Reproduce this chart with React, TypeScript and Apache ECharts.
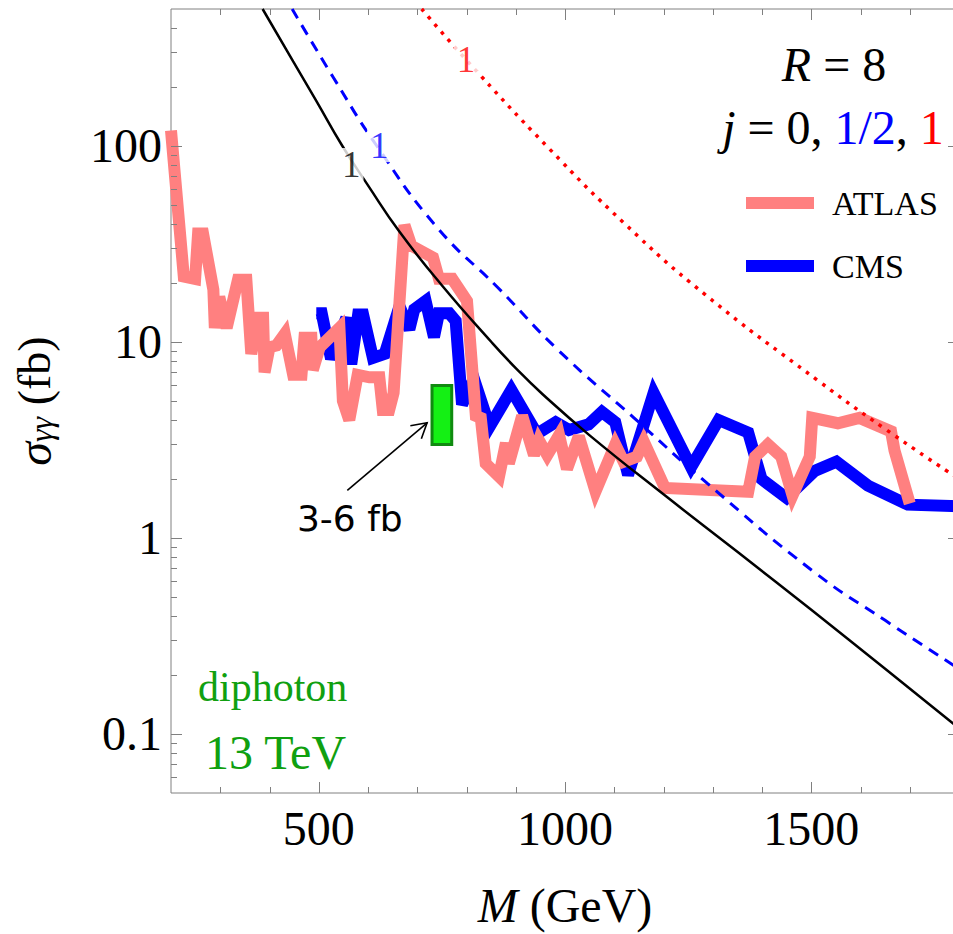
import React, { useEffect, useRef } from 'react';
import * as echarts from 'echarts';

// ---------------- data ----------------
const atlasMass = [200, 226, 249, 255, 265, 286, 289, 298, 313, 336, 353, 363, 377, 387, 390, 400, 414, 431, 448, 465, 471, 485, 488, 502, 542, 549, 562, 579, 603, 623, 630, 643, 652, 674, 688, 732, 744, 771, 801, 819, 829, 839, 866, 880, 886, 913, 937, 947, 964, 988, 1004, 1028, 1062, 1102, 1119, 1146, 1160, 1203, 1372, 1386, 1412, 1439, 1462, 1497, 1502, 1554, 1598, 1662, 1669, 1700];
const atlasSigma = [120, 21.6, 21, 35.8, 35.8, 18.5, 11.8, 17, 11.8, 20.8, 20.8, 8.7, 13.3, 13.3, 7.0, 9.4, 9.6, 11.0, 6.8, 6.8, 10.5, 10.5, 7.2, 9.4, 11.8, 5.0, 4.0, 6.8, 6.6, 6.6, 4.5, 4.5, 5.5, 39.5, 31, 27, 21, 21, 16.2, 4.2, 4.1, 2.4, 2.06, 3.05, 2.4, 4.2, 2.65, 3.15, 2.65, 3.35, 2.25, 3.3, 1.73, 3.0, 2.45, 2.6, 3.1, 1.8, 1.72, 2.6, 3.0, 2.6, 1.65, 2.6, 4.1, 3.85, 4.1, 3.5, 2.8, 1.5];

const cmsMass = [495, 506, 525, 556, 566, 580, 590, 610, 634, 664, 684, 694, 717, 734, 744, 765, 778, 791, 815, 847, 891, 943, 981, 1008, 1048, 1075, 1102, 1128, 1180, 1256, 1312, 1372, 1399, 1450, 1507, 1551, 1615, 1696, 1800];
const cmsSigma = [14, 14, 8.2, 13.3, 7.7, 13.8, 13.8, 8.3, 8.7, 15.2, 11.6, 14.7, 16.2, 10.6, 14, 14, 12.8, 4.8, 6.5, 3.7, 5.7, 3.4, 3.9, 3.56, 3.8, 4.4, 3.9, 2.1, 5.5, 2.3, 4.0, 3.45, 2.0, 1.6, 2.2, 2.45, 1.85, 1.48, 1.45];

// theory curves, R = 8, j = 0, 1/2, 1
const spin0Mass = [386, 448, 495, 548, 600, 664, 749, 851, 900, 954, 1050, 1200, 1350, 1500, 1650, 1800];
const spin0Sigma = [500, 270, 170, 100, 63, 36.5, 19.6, 9.97, 7.36, 5.43, 3.34, 1.67, 0.85, 0.43, 0.215, 0.107];
const spinHalfMass = [446, 529, 618, 740, 864, 988, 1140, 1289, 1507, 1650, 1800];
const spinHalfSigma = [500, 225, 100, 38.5, 18.9, 9.0, 4.1, 1.9, 0.667, 0.38, 0.215];
const spin1Mass = [709, 799, 966, 1120, 1284, 1512, 1650, 1800];
const spin1Sigma = [500, 276, 98, 40.4, 17.5, 6.4, 3.6, 2.0];

// contour labels on the curves
const curveLabelMass = [566, 623, 799];
const curveLabelSigma = [80, 101, 276];
const curveLabelText = ['1', '1', '1'];

// signal box 3-6 fb around 750 GeV and its arrow
const signalMass = [730, 770];
const signalSigma = [3, 6];
const arrowMass = [558, 720];
const arrowSigma = [1.75, 3.87];
const signalLabelMass = 563;
const signalLabelSigma = 1.26;
const signalLabel = '3-6 fb';

// axis ticks
const xTickValues = [500, 1000, 1500];
const xTickLabels = ['500', '1000', '1500'];
const xMinorTicks = [300, 400, 600, 700, 800, 900, 1100, 1200, 1300, 1400, 1600, 1700];
const yTickValues = [0.1, 1, 10, 100];
const yTickLabels = ['0.1', '1', '10', '100'];
const yDecades = [0.01, 0.1, 1, 10, 100];
const yMultipliers = [2, 3, 4, 5, 6, 7, 8, 9];

// ---------------- styles ----------------
const serif = 'Liberation Serif, Times New Roman, serif';
const sans = 'DejaVu Sans, sans-serif';
const axisGray = '#808080';
const curveLabelColors = ['#000000', '#0000ff', '#ff0000'];

const zip = (a: number[], b: number[]) => a.map((v, i) => [v, b[i]]);

export default function App() {
  const ref = useRef<HTMLDivElement>(null);

  useEffect(() => {
    if (!ref.current) return;
    const chart = echarts.init(ref.current, null, { renderer: 'svg' });

    const yMinorTicks: number[] = [];
    yDecades.forEach((d) =>
      yMultipliers.forEach((m) => {
        const v = +(d * m).toPrecision(3);
        if (v > 0.05 && v < 500) yMinorTicks.push(v);
      })
    );
    const tickData: number[][] = [
      ...xTickValues.map((v) => [v, 1, 0, 1]),
      ...xMinorTicks.map((v) => [v, 1, 0, 0]),
      ...yTickValues.map((v) => [1000, v, 1, 1]),
      ...yMinorTicks.map((v) => [1000, v, 1, 0]),
    ];

    const option: any = {
      animation: false,
      backgroundColor: '#ffffff',
      textStyle: { fontFamily: serif },
      grid: {
        left: 171,
        top: 9,
        right: 1,
        bottom: 135,
        show: true,
        borderColor: axisGray,
        borderWidth: 1,
        backgroundColor: 'transparent',
      },
      xAxis: {
        type: 'value',
        min: 200,
        max: 1800,
        interval: 100,
        axisLine: { show: false },
        axisTick: { show: false },
        splitLine: { show: false },
        axisLabel: {
          color: '#000',
          fontFamily: serif,
          fontSize: 48,
          margin: 11,
          formatter: (v: number) => {
            const i = xTickValues.indexOf(v);
            return i >= 0 ? xTickLabels[i] : '';
          },
        },
        name: '{m|M} (GeV)',
        nameLocation: 'middle',
        nameGap: 88,
        nameTextStyle: {
          color: '#000',
          fontFamily: serif,
          fontSize: 48,
          rich: { m: { fontStyle: 'italic', fontFamily: serif, fontSize: 48, color: '#000' } },
        },
      },
      yAxis: {
        type: 'log',
        logBase: 10,
        min: 0.05,
        max: 500,
        axisLine: { show: false },
        axisTick: { show: false },
        splitLine: { show: false },
        axisLabel: {
          color: '#000',
          fontFamily: serif,
          fontSize: 48,
          margin: 9,
          formatter: (v: number) => {
            const i = yTickValues.findIndex((t) => Math.abs(Math.log10(t) - Math.log10(v)) < 1e-6);
            return i >= 0 ? yTickLabels[i] : '';
          },
        },
        name: '{s|σ}{g|γγ} (fb)',
        nameLocation: 'middle',
        nameGap: 114,
        nameTextStyle: {
          color: '#000',
          fontFamily: serif,
          fontSize: 46,
          lineHeight: 46,
          rich: {
            s: { fontStyle: 'italic', fontFamily: serif, fontSize: 48, lineHeight: 46, color: '#000' },
            g: { fontStyle: 'italic', fontFamily: serif, fontSize: 32, lineHeight: 16, verticalAlign: 'bottom', color: '#000' },
          },
        },
      },
      legend: {
        data: ['ATLAS', 'CMS'],
        orient: 'vertical',
        left: 741,
        top: 178,
        itemWidth: 68,
        itemHeight: 12,
        itemGap: 23,
        icon: 'rect',
        selectedMode: false,
        textStyle: {
          color: '#000',
          fontFamily: serif,
          fontSize: 34,
          lineHeight: 40,
          padding: [0, 0, 0, 13],
        },
      },
      graphic: [
        {
          type: 'text',
          x: 834,
          y: 64,
          style: {
            text: '{i|R} = 8',
            fontFamily: serif,
            fontSize: 48,
            fill: '#000',
            align: 'center',
            verticalAlign: 'middle',
            rich: { i: { fontStyle: 'italic', fontFamily: serif, fontSize: 48, fill: '#000' } },
          },
        },
        {
          type: 'text',
          x: 833,
          y: 127,
          style: {
            text: '{i|j} = 0, {b|1/2}, {r|1}',
            fontFamily: serif,
            fontSize: 48,
            fill: '#000',
            align: 'center',
            verticalAlign: 'middle',
            rich: {
              i: { fontStyle: 'italic', fontFamily: serif, fontSize: 48, fill: '#000' },
              b: { fontFamily: serif, fontSize: 48, fill: '#0000ff' },
              r: { fontFamily: serif, fontSize: 48, fill: '#ff0000' },
            },
          },
        },
        {
          type: 'text',
          x: 198,
          y: 687,
          style: { text: 'diphoton', fontFamily: serif, fontSize: 42, fill: '#10a010', align: 'left', verticalAlign: 'middle' },
        },
        {
          type: 'text',
          x: 205,
          y: 752,
          style: { text: '13 TeV', fontFamily: serif, fontSize: 48, fill: '#10a010', align: 'left', verticalAlign: 'middle' },
        },
      ],
      series: [
        {
          name: 'CMS',
          type: 'line',
          data: zip(cmsMass, cmsSigma),
          showSymbol: false,
          symbol: 'none',
          z: 2,
          itemStyle: { color: '#0000ff' },
          lineStyle: { color: '#0000ff', width: 12, join: 'miter', miterLimit: 3, cap: 'butt' },
        },
        {
          name: 'ATLAS',
          type: 'line',
          data: zip(atlasMass, atlasSigma),
          showSymbol: false,
          symbol: 'none',
          z: 3,
          itemStyle: { color: '#ff8080' },
          lineStyle: { color: '#ff8080', width: 12, join: 'miter', miterLimit: 3, cap: 'butt' },
        },
        {
          name: 'j=0',
          type: 'line',
          data: zip(spin0Mass, spin0Sigma),
          smooth: 0.5,
          showSymbol: false,
          symbol: 'none',
          z: 4,
          lineStyle: { color: '#000000', width: 2.5 },
        },
        {
          name: 'j=1/2',
          type: 'line',
          data: zip(spinHalfMass, spinHalfSigma),
          smooth: 0.5,
          showSymbol: false,
          symbol: 'none',
          z: 4,
          lineStyle: { color: '#0000ff', width: 3, type: [11, 8] },
        },
        {
          name: 'j=1',
          type: 'line',
          data: zip(spin1Mass, spin1Sigma),
          smooth: 0.5,
          showSymbol: false,
          symbol: 'none',
          z: 4,
          lineStyle: { color: '#ff0000', width: 3.5, type: [3.5, 6.5] },
        },
        {
          name: 'curve labels',
          type: 'scatter',
          symbolSize: 1,
          z: 5,
          itemStyle: { color: 'rgba(0,0,0,0)' },
          data: curveLabelMass.map((m, i) => ({
            value: [m, curveLabelSigma[i]],
            label: {
              show: true,
              position: 'inside',
              formatter: curveLabelText[i],
              color: curveLabelColors[i],
              fontFamily: serif,
              fontSize: 37,
              lineHeight: 34,
              backgroundColor: '#ffffff',
              padding: [0, 3],
            },
          })),
        },
        {
          name: 'ticks',
          type: 'custom',
          z: 6,
          silent: true,
          data: tickData,
          encode: { x: 0, y: 1 },
          renderItem: (params: any, api: any) => {
            const cs = params.coordSys;
            const isY = api.value(2) === 1;
            const len = api.value(3) === 1 ? 11 : 6;
            const p = api.coord([api.value(0), api.value(1)]);
            const style = { stroke: axisGray, lineWidth: 1 };
            if (!isY) {
              const x = Math.round(p[0]) + 0.5;
              const b = cs.y + cs.height;
              return {
                type: 'group',
                children: [
                  { type: 'line', shape: { x1: x, y1: b, x2: x, y2: b - len }, style },
                  { type: 'line', shape: { x1: x, y1: cs.y, x2: x, y2: cs.y + len }, style },
                ],
              };
            }
            const y = Math.round(p[1]) + 0.5;
            const r = cs.x + cs.width;
            return {
              type: 'group',
              children: [
                { type: 'line', shape: { x1: cs.x, y1: y, x2: cs.x + len, y2: y }, style },
                { type: 'line', shape: { x1: r, y1: y, x2: r - len, y2: y }, style },
              ],
            };
          },
        },
        {
          name: 'signal',
          type: 'custom',
          z: 7,
          silent: true,
          data: [[signalMass[0], signalSigma[0], signalMass[1], signalSigma[1]]],
          encode: { x: [0, 2], y: [1, 3] },
          renderItem: (params: any, api: any) => {
            const tl = api.coord([api.value(0), api.value(3)]);
            const br = api.coord([api.value(2), api.value(1)]);
            return {
              type: 'rect',
              shape: { x: tl[0], y: tl[1], width: br[0] - tl[0], height: br[1] - tl[1] },
              style: { fill: '#14f014', stroke: '#108a10', lineWidth: 3 },
            };
          },
        },
        {
          name: 'arrow',
          type: 'custom',
          z: 7,
          silent: true,
          data: [[arrowMass[0], arrowSigma[0], arrowMass[1], arrowSigma[1], signalLabelMass, signalLabelSigma]],
          encode: { x: [0, 2, 4], y: [1, 3, 5] },
          renderItem: (params: any, api: any) => {
            const a = api.coord([api.value(0), api.value(1)]);
            const b = api.coord([api.value(2), api.value(3)]);
            const t = api.coord([api.value(4), api.value(5)]);
            const ang = Math.atan2(a[1] - b[1], a[0] - b[0]);
            const hl = 17;
            const d = (30 * Math.PI) / 180;
            const h1 = [b[0] + hl * Math.cos(ang + d), b[1] + hl * Math.sin(ang + d)];
            const h2 = [b[0] + hl * Math.cos(ang - d), b[1] + hl * Math.sin(ang - d)];
            const style = { stroke: '#000', lineWidth: 1.6, fill: null };
            return {
              type: 'group',
              children: [
                { type: 'line', shape: { x1: a[0], y1: a[1], x2: b[0], y2: b[1] }, style },
                { type: 'polyline', shape: { points: [h1, b, h2] }, style },
                {
                  type: 'text',
                  x: t[0],
                  y: t[1],
                  style: {
                    text: signalLabel,
                    fontFamily: sans,
                    fontSize: 36,
                    fill: '#000',
                    align: 'center',
                    verticalAlign: 'middle',
                  },
                },
              ],
            };
          },
        },
      ],
    };

    chart.setOption(option);
    return () => chart.dispose();
  }, []);

  return (
    <div
      ref={ref}
      style={{ position: 'fixed', left: 0, top: 0, width: 962, height: 934, background: '#ffffff' }}
    />
  );
}
